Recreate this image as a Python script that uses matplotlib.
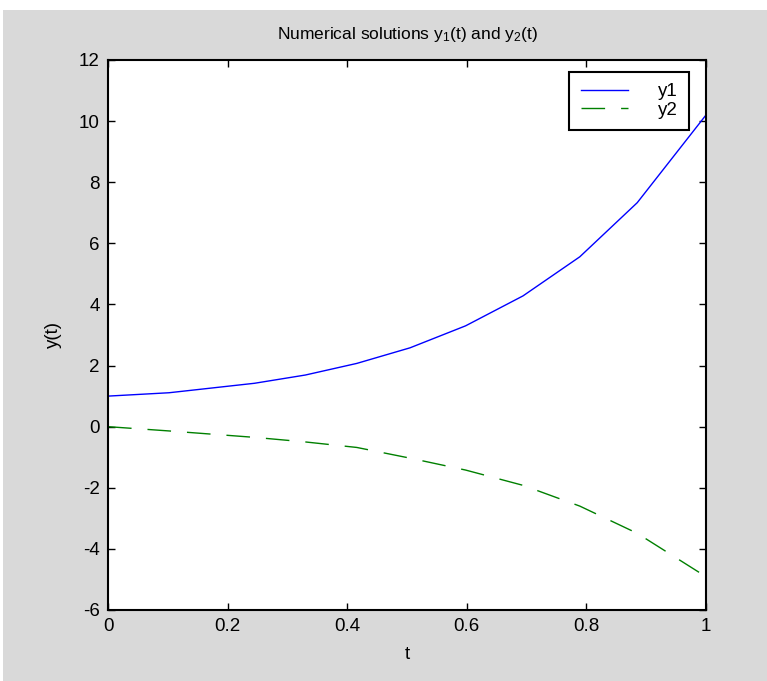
import matplotlib.pyplot as plt
from matplotlib.patches import Rectangle

# solver output (adaptive step)
t = [0.0, 0.102, 0.245, 0.330, 0.416, 0.505, 0.598, 0.694, 0.789, 0.885, 1.0]
y1 = [1.00, 1.11, 1.42, 1.69, 2.07, 2.58, 3.30, 4.28, 5.56, 7.33, 10.20]
y2 = [0.00, -0.14, -0.35, -0.50, -0.68, -1.03, -1.42, -1.92, -2.60, -3.49, -4.91]

xticks = [0, 0.2, 0.4, 0.6, 0.8, 1]
xticklabels = ['0', '0.2', '0.4', '0.6', '0.8', '1']
yticks = [-6, -4, -2, 0, 2, 4, 6, 8, 10, 12]

plt.rcParams['font.family'] = ['Liberation Sans', 'DejaVu Sans']
plt.rcParams['axes.unicode_minus'] = False
plt.rcParams['mathtext.fontset'] = 'custom'
plt.rcParams['mathtext.rm'] = 'Liberation Sans'
plt.rcParams['mathtext.it'] = 'Liberation Sans'

W, H = 767, 681
fig = plt.figure(figsize=(W / 100, H / 100), dpi=100, facecolor='white')
fig.patches.append(Rectangle((3 / W, 0), 1, 1 - 10 / H, transform=fig.transFigure,
                             facecolor='#d9d9d9', edgecolor='none', zorder=-1))

ax = fig.add_axes([108 / W, 1 - 610 / H, 598 / W, 550 / H])
ax.plot(t, y1, color='#0000ff', lw=1.0, label='y1')
ax.plot(t, y2, color='#008000', lw=1.0, dashes=(17, 11.5), label='y2')

ax.set_xlim(0, 1)
ax.set_ylim(-6, 12)
ax.set_xticks(xticks)
ax.set_xticklabels(xticklabels)
ax.set_yticks(yticks)
ax.tick_params(direction='in', length=5, width=1, top=True, right=True,
               labelsize=13.5, pad=6, colors='black')
for s in ax.spines.values():
    s.set_linewidth(1.5)

ax.set_xlabel('t', fontsize=13.5, labelpad=8)
ax.set_ylabel('y(t)', fontsize=13.5, labelpad=12)
ax.set_title('Numerical solutions y$_1$(t) and y$_2$(t)', fontsize=12.5, pad=15)

leg = ax.legend(loc='upper right', bbox_to_anchor=(0.971, 0.978), fontsize=13.5,
                handlelength=2.5, handletextpad=1.6, labelspacing=0.05,
                borderpad=0.6, borderaxespad=0, fancybox=False, framealpha=1,
                edgecolor='black')
leg.get_frame().set_linewidth(1.5)
leg.get_frame().set_boxstyle('square', pad=0)

fig.savefig('out.png', dpi=100, facecolor=fig.get_facecolor())
